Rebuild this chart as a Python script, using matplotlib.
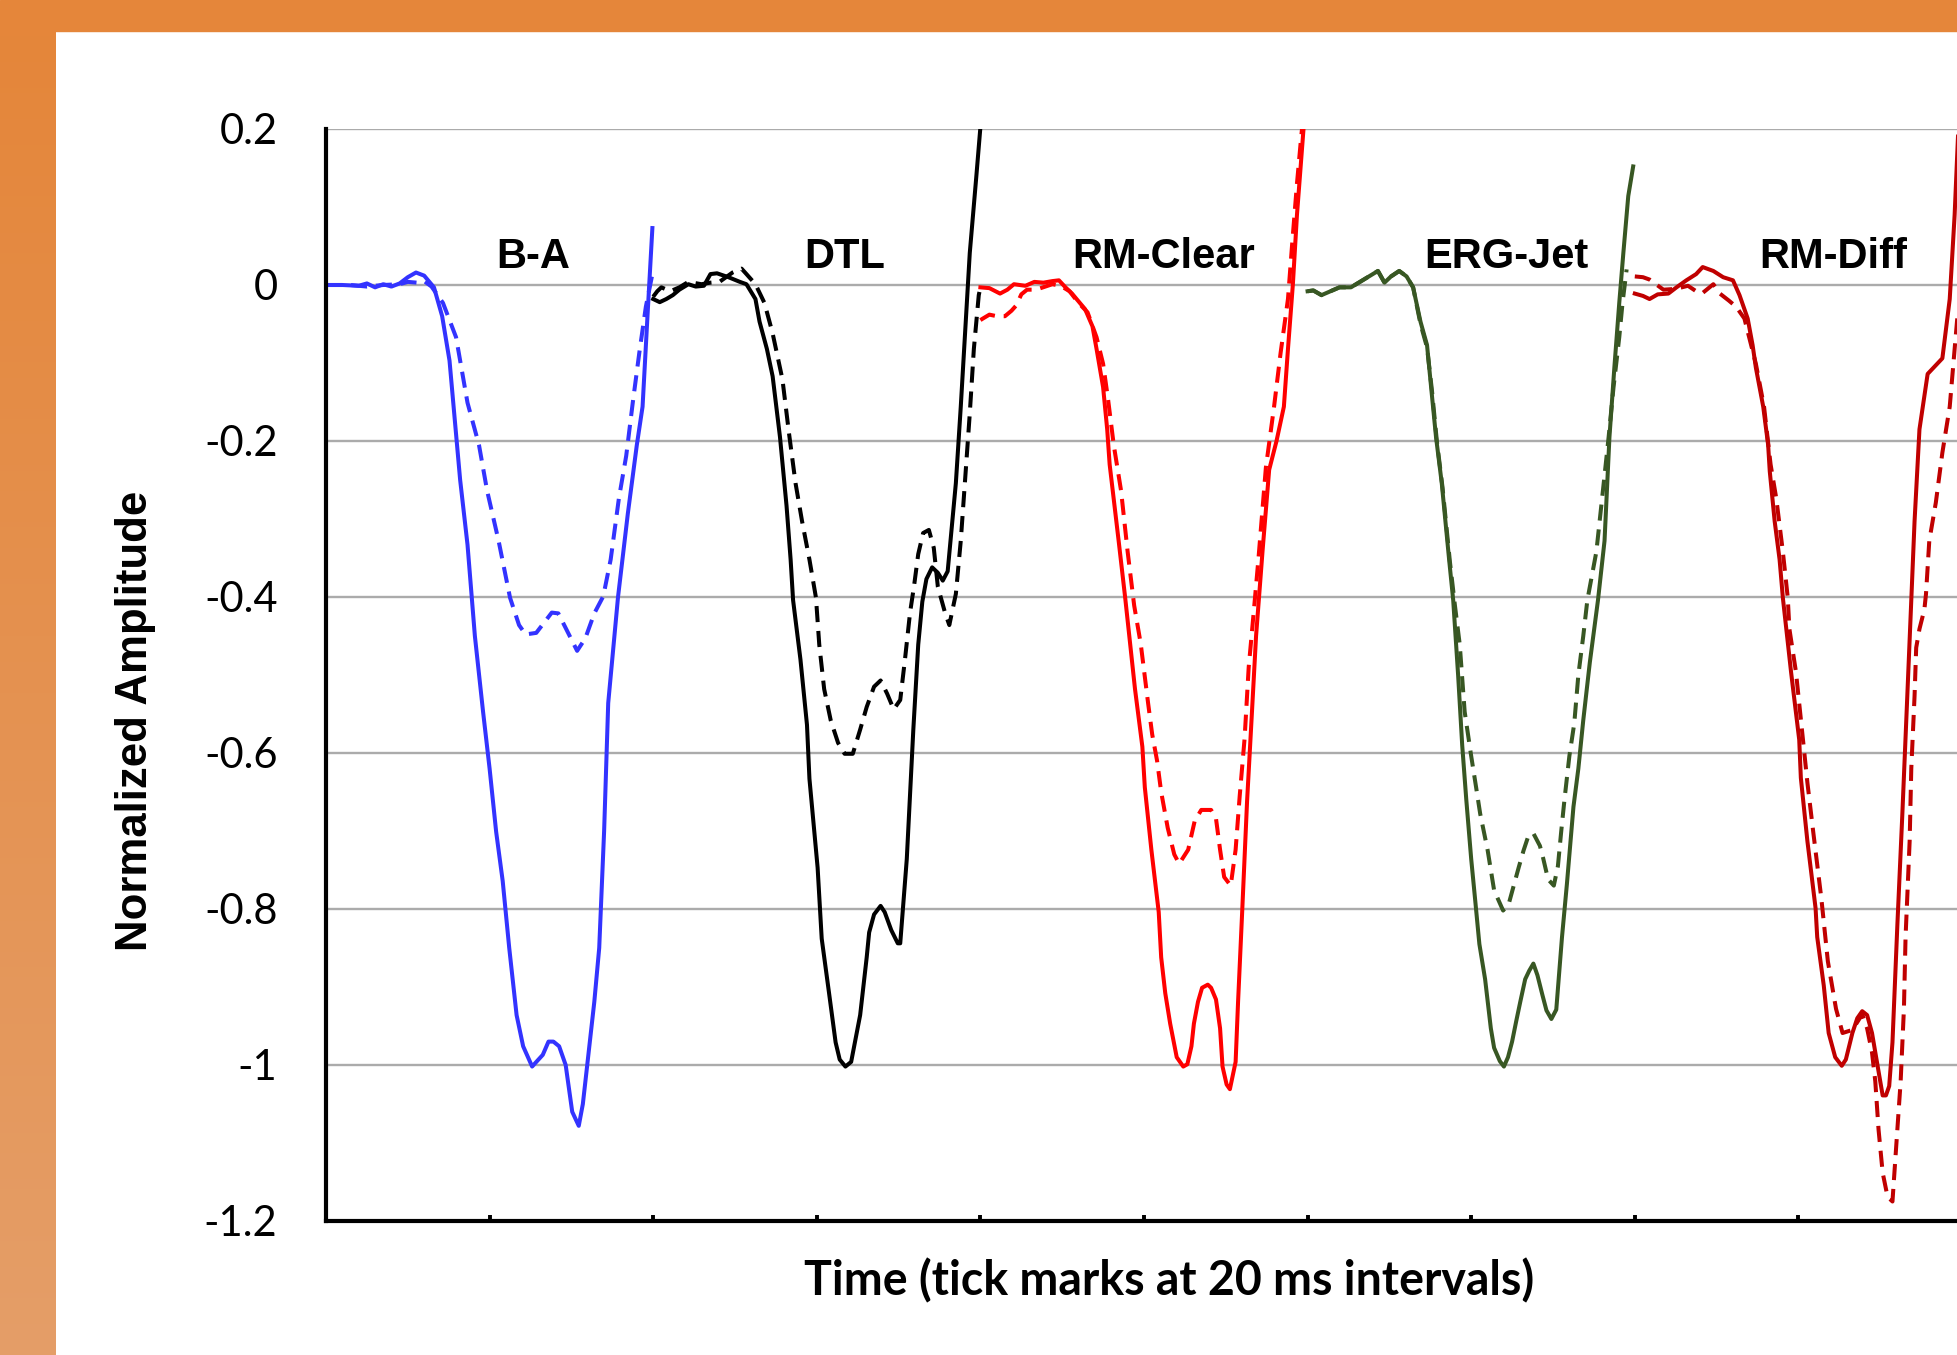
import numpy as np
import matplotlib
matplotlib.use("Agg")
import matplotlib.pyplot as plt
from matplotlib.patches import Rectangle

plt.rcParams['axes.unicode_minus'] = False

# five conditions, each shown in its own 40 ms window
segments = ["B-A", "DTL", "RM-Clear", "ERG-Jet", "RM-Diff"]
seg_colors = ["#3333FF", "#000000", "#FF0000", "#385723", "#C00000"]
seg_len = 40
label_t = [25.3, 23.4, 22.4, 24.3, 24.2]

yticks = [-1.2, -1.0, -0.8, -0.6, -0.4, -0.2, 0.0, 0.2]
ytick_labels = ["-1.2", "-1", "-0.8", "-0.6", "-0.4", "-0.2", "0", "0.2"]
xticks = [0, 20, 40, 60, 80, 100, 120, 140, 160, 180, 200]

# time inside the window (ms) and normalized amplitude
ba_solid_t = [0, 2, 4, 5, 6, 7, 8, 9, 10, 11, 12, 13.2, 14.2, 15.1, 15.6, 16.4, 17.3, 18.2, 19.2, 20.0,
              20.8, 21.6, 22.4, 23.3, 24.1, 25.2, 25.8, 26.5, 27.2, 27.8, 28.5, 29.3, 30.1, 30.9, 31.4,
              32.0, 32.8, 33.4, 34.0, 34.5, 35.7, 36.9, 38.0, 38.7, 39.3, 39.9]
ba_solid_y = [0.0, 0.0, -0.001, 0.002, -0.003, 0.001, -0.002, 0.002, 0.010, 0.016, 0.012, -0.003, -0.04,
              -0.097, -0.156, -0.25, -0.333, -0.45, -0.547, -0.62, -0.701, -0.764, -0.85, -0.936, -0.976,
              -1.002, -0.995, -0.987, -0.97, -0.97, -0.976, -1.0, -1.06, -1.078, -1.05, -0.994, -0.919,
              -0.85, -0.70, -0.536, -0.40, -0.293, -0.205, -0.156, -0.04, 0.073]
ba_dash_t = [0, 3, 5, 7, 9, 10, 11.1, 12.0, 12.9, 14.3, 15.9, 17.3, 18.7, 19.7, 21.1, 22.5, 23.6, 24.4,
             25.7, 26.8, 27.6, 28.4, 29.6, 30.7, 31.7, 32.8, 33.9, 34.8, 35.8, 36.7, 37.5, 38.3, 39.1, 39.9]
ba_dash_y = [0.0, 0.0, -0.002, 0.0, 0.001, 0.004, 0.003, 0.005, -0.002, -0.023, -0.067, -0.151, -0.205,
             -0.264, -0.328, -0.401, -0.436, -0.448, -0.446, -0.431, -0.42, -0.421, -0.446, -0.469, -0.453,
             -0.421, -0.399, -0.352, -0.274, -0.219, -0.151, -0.087, -0.028, 0.014]

dtl_solid_t = [0, 0.8, 1.6, 2.4, 3.2, 4.3, 5.2, 6.2, 7.0, 7.8, 9.2, 10.6, 11.4, 12.5, 13.0, 13.9, 14.6,
               15.5, 16.3, 16.8, 17.1, 18.0, 18.8, 19.1, 20.1, 20.6, 21.5, 22.3, 22.8, 23.5, 24.2, 25.3,
               26.1, 26.4, 27.0, 27.8, 28.3, 29.1, 29.9, 30.2, 31.0, 31.8, 32.4, 32.9, 33.4, 34.1, 34.8,
               35.4, 36.0, 37.0, 37.6, 38.7, 39.5, 40.1]
dtl_solid_y = [-0.018, -0.022, -0.018, -0.013, -0.006, 0.001, -0.002, -0.001, 0.014, 0.015, 0.010, 0.004,
               0.001, -0.018, -0.047, -0.082, -0.117, -0.195, -0.283, -0.352, -0.404, -0.48, -0.564, -0.633,
               -0.747, -0.838, -0.908, -0.971, -0.993, -1.002, -0.996, -0.936, -0.862, -0.83, -0.807, -0.796,
               -0.804, -0.827, -0.844, -0.844, -0.736, -0.57, -0.461, -0.406, -0.377, -0.362, -0.369, -0.379,
               -0.367, -0.254, -0.156, 0.041, 0.139, 0.215]
dtl_dash_t = [0, 0.5, 1.0, 2.1, 3.2, 4.3, 5.9, 7.0, 8.1, 9.7, 10.8, 11.4, 12.5, 13.6, 14.6, 15.8, 16.6,
              17.4, 18.2, 19.1, 19.9, 20.3, 20.9, 21.7, 22.6, 23.4, 24.4, 25.3, 26.1, 27.0, 27.8, 28.6, 29.4,
              30.2, 30.8, 31.4, 31.9, 32.4, 33.0, 33.7, 34.3, 34.8, 35.7, 36.2, 37.0, 37.6, 38.1, 38.7, 39.2,
              39.8, 40.0]
dtl_dash_y = [-0.015, -0.008, -0.003, -0.008, -0.003, 0.004, 0.001, 0.003, 0.004, 0.016, 0.021, 0.014, 0.001,
              -0.023, -0.062, -0.121, -0.19, -0.254, -0.303, -0.352, -0.401, -0.461, -0.518, -0.558, -0.587,
              -0.601, -0.601, -0.57, -0.541, -0.515, -0.507, -0.524, -0.544, -0.532, -0.478, -0.42, -0.385,
              -0.345, -0.318, -0.314, -0.337, -0.387, -0.421, -0.436, -0.396, -0.328, -0.254, -0.165, -0.082,
              -0.013, -0.003]

rmc_solid_t = [0, 1.1, 2.4, 3.3, 4.1, 5.5, 6.6, 7.7, 8.8, 9.6, 10.4, 11.2, 12.0, 12.8, 13.7, 14.2, 15.0,
               15.5, 15.8, 16.9, 17.7, 18.9, 19.8, 20.1, 20.9, 21.8, 22.1, 22.6, 23.2, 24.0, 24.8, 25.3, 25.8,
               26.1, 26.6, 27.1, 27.8, 28.2, 28.8, 29.3, 29.6, 30.1, 30.5, 31.2, 31.5, 32.0, 32.6, 33.2, 33.7,
               34.5, 35.3, 36.2, 37.1, 37.6, 38.2, 38.7, 39.5, 39.8]
rmc_solid_y = [-0.003, -0.004, -0.011, -0.006, 0.001, -0.001, 0.004, 0.003, 0.005, 0.006, -0.003, -0.011,
               -0.021, -0.031, -0.053, -0.082, -0.131, -0.185, -0.23, -0.328, -0.401, -0.518, -0.592, -0.644,
               -0.724, -0.804, -0.862, -0.908, -0.947, -0.99, -1.002, -0.999, -0.976, -0.947, -0.919, -0.901,
               -0.897, -0.901, -0.916, -0.953, -1.002, -1.025, -1.031, -0.996, -0.919, -0.804, -0.662, -0.547,
               -0.45, -0.34, -0.237, -0.2, -0.156, -0.082, 0.001, 0.09, 0.2, 0.25]
rmc_dash_t = [0, 0.3, 1.1, 2.0, 3.0, 3.8, 4.4, 5.0, 5.7, 6.8, 8.8, 9.8, 10.9, 12.0, 13.1, 14.2, 15.0, 15.6,
              16.3, 17.2, 18.0, 18.8, 19.6, 20.5, 21.0, 21.6, 22.1, 22.9, 23.7, 24.3, 25.4, 26.2, 27.0, 28.2,
              28.8, 29.3, 29.8, 30.6, 31.2, 31.7, 32.3, 32.8, 33.4, 34.0, 34.9, 35.9, 36.7, 37.6, 38.1, 38.7,
              39.2, 39.6]
rmc_dash_y = [-0.045, -0.043, -0.038, -0.04, -0.04, -0.033, -0.026, -0.012, -0.006, -0.006, 0.001, -0.001,
              -0.008, -0.023, -0.035, -0.067, -0.101, -0.146, -0.205, -0.264, -0.342, -0.411, -0.46, -0.536,
              -0.576, -0.61, -0.65, -0.696, -0.73, -0.742, -0.724, -0.687, -0.673, -0.673, -0.684, -0.724,
              -0.759, -0.77, -0.724, -0.655, -0.581, -0.49, -0.421, -0.35, -0.234, -0.156, -0.087, -0.018,
              0.051, 0.13, 0.188, 0.23]

erg_solid_t = [0, 0.7, 1.7, 2.8, 3.9, 5.3, 6.4, 7.5, 8.6, 9.4, 10.2, 11.2, 12.1, 12.9, 13.8, 14.6, 15.1,
               15.7, 16.4, 17.3, 17.8, 18.4, 18.9, 19.4, 20.0, 20.5, 21.0, 21.7, 22.4, 22.8, 23.5, 24.0, 24.5,
               25.0, 25.5, 26.0, 26.6, 27.1, 27.6, 28.1, 28.7, 29.2, 29.8, 30.4, 31.1, 31.7, 32.5, 33.1, 33.7,
               34.5, 35.5, 36.3, 36.9, 37.5, 38.1, 38.6, 39.2, 39.8]
erg_solid_y = [-0.008, -0.007, -0.013, -0.008, -0.003, -0.003, 0.004, 0.011, 0.018, 0.003, 0.011, 0.018,
               0.011, -0.003, -0.047, -0.077, -0.131, -0.195, -0.254, -0.352, -0.404, -0.5, -0.59, -0.66,
               -0.736, -0.79, -0.845, -0.89, -0.953, -0.978, -0.995, -1.002, -0.99, -0.97, -0.944, -0.919,
               -0.89, -0.879, -0.87, -0.885, -0.91, -0.93, -0.941, -0.929, -0.836, -0.768, -0.669, -0.62,
               -0.558, -0.484, -0.404, -0.328, -0.195, -0.106, -0.023, 0.041, 0.114, 0.152]
erg_dash_t = [0, 0.7, 1.7, 2.8, 3.9, 5.3, 6.4, 7.5, 8.6, 9.4, 10.2, 11.2, 12.1, 12.9, 13.8, 14.6, 15.2, 15.8,
              16.5, 17.4, 18.0, 18.6, 19.2, 20.0, 20.6, 21.1, 22.0, 22.8, 23.9, 24.6, 25.2, 25.8, 26.4, 27.0,
              27.6, 28.4, 28.8, 29.4, 30.1, 30.6, 31.0, 31.4, 32.0, 32.6, 33.1, 33.7, 34.2, 35.3, 36.2, 36.8,
              37.4, 38.1, 38.5, 39.0]
erg_dash_y = [-0.008, -0.007, -0.013, -0.008, -0.003, -0.003, 0.004, 0.011, 0.018, 0.003, 0.011, 0.018,
              0.011, -0.003, -0.05, -0.08, -0.135, -0.2, -0.26, -0.355, -0.41, -0.461, -0.547, -0.604, -0.644,
              -0.678, -0.724, -0.776, -0.802, -0.793, -0.77, -0.747, -0.725, -0.706, -0.703, -0.719, -0.735,
              -0.762, -0.77, -0.745, -0.701, -0.66, -0.604, -0.562, -0.5, -0.45, -0.404, -0.342, -0.254,
              -0.195, -0.131, -0.067, -0.023, 0.02]

rmd_solid_t = [0, 1.0, 1.8, 2.8, 4.1, 5.1, 6.3, 7.5, 8.3, 9.6, 10.8, 12.0, 12.8, 13.8, 14.4, 14.8, 15.7,
               16.3, 16.5, 17.1, 17.7, 18.1, 19.1, 20.1, 20.3, 21.1, 22.1, 22.3, 23.1, 23.7, 24.5, 25.3, 25.8,
               26.6, 27.2, 27.8, 28.4, 29.0, 29.6, 30.3, 30.7, 31.1, 31.5, 32.1, 32.7, 33.3, 33.8, 34.2, 34.8,
               35.8, 37.6, 38.5, 39.1, 39.5, 39.8]
rmd_solid_y = [-0.011, -0.014, -0.018, -0.012, -0.011, -0.003, 0.006, 0.014, 0.023, 0.018, 0.010, 0.006,
               -0.013, -0.043, -0.077, -0.106, -0.156, -0.205, -0.239, -0.303, -0.352, -0.401, -0.496, -0.583,
               -0.632, -0.713, -0.799, -0.836, -0.898, -0.959, -0.99, -1.001, -0.993, -0.959, -0.94, -0.931,
               -0.936, -0.959, -0.996, -1.039, -1.039, -1.027, -0.971, -0.82, -0.68, -0.53, -0.404, -0.303,
               -0.185, -0.114, -0.094, -0.018, 0.09, 0.188, 0.25]
rmd_dash_t = [0, 1.0, 1.8, 3.5, 5.0, 6.5, 7.5, 8.2, 9.6, 10.4, 11.5, 12.4, 13.4, 14.8, 15.8, 16.6, 17.3, 18.1,
              18.7, 18.9, 19.7, 20.5, 21.1, 21.8, 22.8, 23.6, 24.6, 25.4, 26.6, 27.8, 28.4, 29.0, 29.4, 29.8,
              30.3, 30.9, 31.5, 31.9, 32.5, 32.9, 33.1, 33.6, 33.8, 34.2, 34.4, 34.8, 35.4, 35.6, 36.0, 36.8,
              37.6, 38.5, 39.1, 39.5]
rmd_dash_y = [0.011, 0.010, 0.007, -0.006, -0.005, -0.001, -0.008, -0.011, 0.001, -0.011, -0.02, -0.028,
              -0.043, -0.101, -0.156, -0.23, -0.274, -0.342, -0.401, -0.441, -0.496, -0.577, -0.638, -0.7,
              -0.786, -0.867, -0.928, -0.959, -0.955, -0.935, -0.953, -0.984, -1.021, -1.083, -1.138, -1.169,
              -1.175, -1.113, -1.021, -0.928, -0.836, -0.713, -0.62, -0.527, -0.465, -0.441, -0.416, -0.396,
              -0.328, -0.279, -0.215, -0.156, -0.082, -0.033]

solid_t = [ba_solid_t, dtl_solid_t, rmc_solid_t, erg_solid_t, rmd_solid_t]
solid_y = [ba_solid_y, dtl_solid_y, rmc_solid_y, erg_solid_y, rmd_solid_y]
dash_t = [ba_dash_t, dtl_dash_t, rmc_dash_t, erg_dash_t, rmd_dash_t]
dash_y = [ba_dash_y, dtl_dash_y, rmc_dash_y, erg_dash_y, rmd_dash_y]

W, H = 1958, 1355
fig = plt.figure(figsize=(W / 100, H / 100), dpi=100)
fig.patch.set_facecolor("white")

# orange frame: flat band on top, gradient band on the left
fig.add_artist(Rectangle((0, 1 - 31 / H), 1, 31 / H, transform=fig.transFigure,
                         color="#E5863A", zorder=0))
band = fig.add_axes([0, 0, 56 / W, 1 - 31 / H])
top = np.array([229, 134, 58]) / 255
bottom = np.array([228, 158, 104]) / 255
f = np.linspace(0, 1, 256)[:, None]
grad = top + (bottom - top) * f
band.imshow(grad[:, None, :], aspect="auto", extent=[0, 1, 0, 1])
band.axis("off")

ax = fig.add_axes([326 / W, (H - 1221) / H, 1636 / W, (1221 - 129) / H])

for i, name in enumerate(segments):
    off = seg_len * i
    c = seg_colors[i]
    ax.plot(off + np.array(solid_t[i]), solid_y[i], color=c, lw=2.9, solid_joinstyle="round")
    ax.plot(off + np.array(dash_t[i]), dash_y[i], color=c, lw=2.9, linestyle=(0, (4.0, 2.2)))
    ax.text(off + label_t[i], 0.022, name, ha="center", va="baseline",
            fontfamily="Liberation Sans", fontweight="bold", fontsize=30)

ax.set_xlim(0, 200)
ax.set_ylim(-1.2, 0.2)
ax.set_xticks(xticks)
ax.set_yticks(yticks)
ax.set_yticklabels(ytick_labels, fontfamily="Lato", fontsize=30)
ax.tick_params(axis="x", direction="in", length=4.5, width=2.8, labelbottom=False)
ax.tick_params(axis="y", length=0, pad=35)
ax.yaxis.grid(True, color="#ABABAB", lw=1.7)
ax.set_axisbelow(True)
for s in ["top", "right"]:
    ax.spines[s].set_visible(False)
for s in ["left", "bottom"]:
    ax.spines[s].set_linewidth(3.0)
    ax.spines[s].set_color("black")

fig.text(1169 / W, (H - 1295) / H, "Time (tick marks at 20 ms intervals)", ha="center",
         va="baseline", fontfamily="Lato", fontweight="bold", fontsize=33.5)
fig.text(135 / W, (H - 721) / H, "Normalized Amplitude", rotation=90, ha="center", va="center",
         fontfamily="Liberation Sans", fontweight="bold", fontsize=31.5)

fig.savefig("out.png", dpi=100)
